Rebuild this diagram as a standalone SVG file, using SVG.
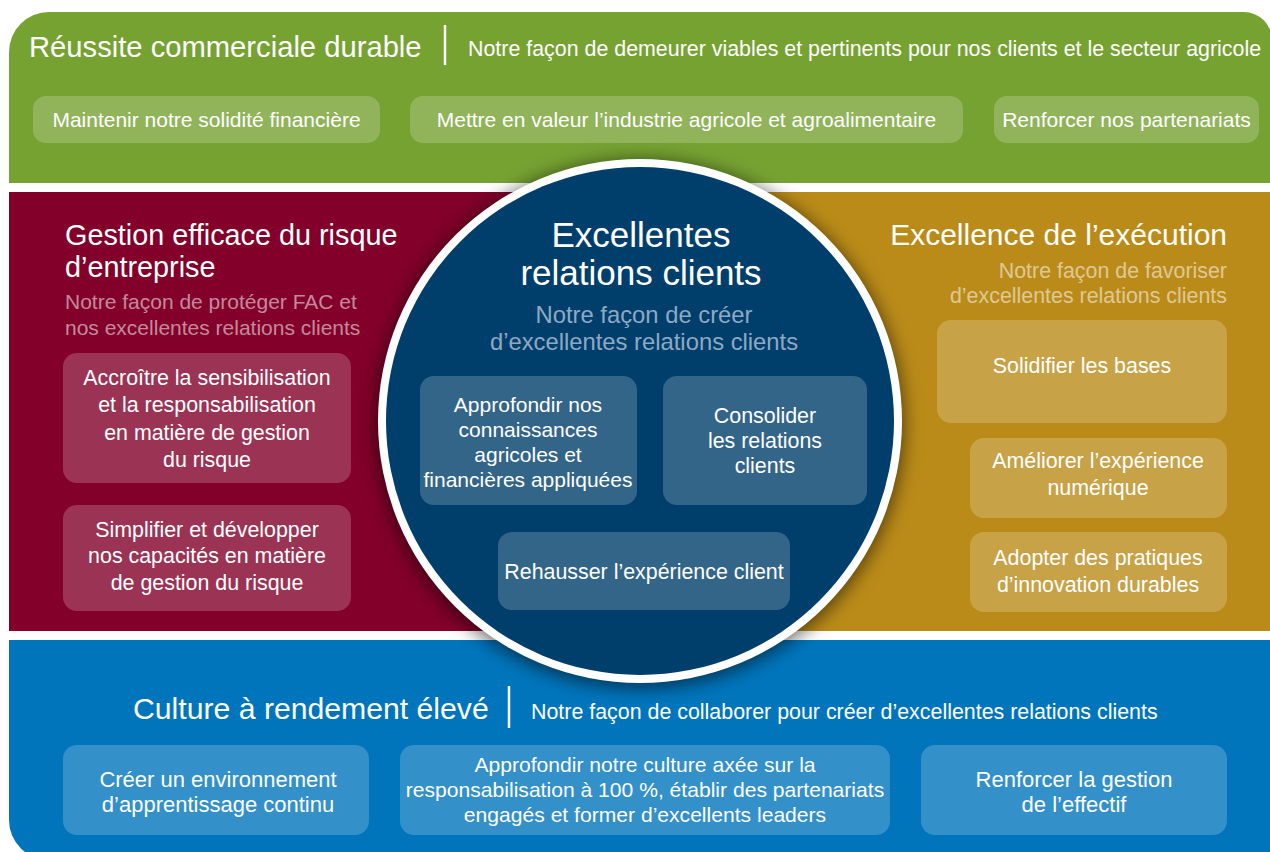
<svg xmlns="http://www.w3.org/2000/svg" width="1270" height="852" viewBox="0 0 1270 852">
<defs>
<style>
text{font-family:"Liberation Sans",Arial,sans-serif;fill:#ffffff}
.t{font-size:29.2px}
.st{font-size:21.4px}
.bx{fill:#ffffff;fill-opacity:0.2}
.b{font-size:21.4px;text-anchor:middle}
.g{font-size:21px}
.sep{stroke:#ffffff;stroke-width:2.5}
.dim{fill-opacity:0.55}
</style>
<filter id="sh" x="-20%" y="-20%" width="140%" height="140%">
<feGaussianBlur stdDeviation="9"/>
</filter>
</defs>
<rect width="1270" height="852" fill="#ffffff"/>

<g id="band-green">
<path d="M9,52 A40,40 0 0 1 49,12 L1244,12 A28,28 0 0 1 1272,40 L1272,183 L9,183 Z" fill="#76a232"/>
<text class="t" x="29" y="57">Réussite commerciale durable</text>
<line class="sep" x1="445" y1="25" x2="445" y2="65"/>
<text class="st" x="468" y="56">Notre façon de demeurer viables et pertinents pour nos clients et le secteur agricole</text>
</g>

<g id="band-maroon">
<rect x="9" y="192" width="631" height="439" fill="#82002a"/>
</g>
<g id="band-gold">
<rect x="640" y="192" width="632" height="439" fill="#ba8b18"/>
</g>
<g id="band-blue">
<path d="M9,640 L1272,640 L1272,860 L49,860 A40,40 0 0 1 9,820 Z" fill="#0075bc"/>
</g>

<g id="shadow">
<circle cx="640" cy="424" r="264" fill="#000000" fill-opacity="0.55" filter="url(#sh)"/>
</g>

<g id="green-boxes">
<g id="g1"><rect class="bx" x="33" y="96" width="347" height="47" rx="13"/><text class="b g" x="206.5" y="127">Maintenir notre solidité financière</text></g>
<g id="g2"><rect class="bx" x="410" y="96" width="553" height="47" rx="13"/><text class="b g" x="686.5" y="127">Mettre en valeur l’industrie agricole et agroalimentaire</text></g>
<g id="g3"><rect class="bx" x="994" y="96" width="265" height="47" rx="13"/><text class="b g" x="1126.5" y="127">Renforcer nos partenariats</text></g>
</g>

<g id="maroon-content">
<text style="font-size:28.8px" x="65" y="245">Gestion efficace du risque</text>
<text style="font-size:28.8px" x="65" y="277">d’entreprise</text>
<text class="dim" style="font-size:21px" x="65" y="309">Notre façon de protéger FAC et</text>
<text class="dim" style="font-size:21px" x="65" y="335">nos excellentes relations clients</text>
<g id="m1"><rect class="bx" x="63" y="353" width="288" height="130" rx="14"/>
<text class="b" x="207" y="385">Accroître la sensibilisation</text>
<text class="b" x="207" y="412">et la responsabilisation</text>
<text class="b" x="207" y="440">en matière de gestion</text>
<text class="b" x="207" y="467">du risque</text></g>
<g id="m2"><rect class="bx" x="63" y="505" width="288" height="106" rx="14"/>
<text class="b" x="207" y="537">Simplifier et développer</text>
<text class="b" x="207" y="563">nos capacités en matière</text>
<text class="b" x="207" y="590">de gestion du risque</text></g>
</g>

<g id="gold-content">
<text style="font-size:30px;text-anchor:end" x="1227" y="245">Excellence de l’exécution</text>
<text class="st dim" style="text-anchor:end" x="1227" y="278">Notre façon de favoriser</text>
<text class="st dim" style="text-anchor:end" x="1227" y="303">d’excellentes relations clients</text>
<g id="o1"><rect class="bx" x="937" y="320" width="290" height="103" rx="14"/>
<text class="b" x="1082" y="373">Solidifier les bases</text></g>
<g id="o2"><rect class="bx" x="970" y="438" width="257" height="80" rx="14"/>
<text class="b" x="1098" y="468">Améliorer l’expérience</text>
<text class="b" x="1098" y="495">numérique</text></g>
<g id="o3"><rect class="bx" x="970" y="532" width="257" height="80" rx="14"/>
<text class="b" x="1098" y="565">Adopter des pratiques</text>
<text class="b" x="1098" y="592">d’innovation durables</text></g>
</g>

<g id="blue-content">
<text style="font-size:30.2px" x="133" y="719">Culture à rendement élevé</text>
<line class="sep" x1="509" y1="686" x2="509" y2="728"/>
<text class="st" x="531" y="719">Notre façon de collaborer pour créer d’excellentes relations clients</text>
<g id="u1"><rect class="bx" x="63" y="745" width="306" height="90" rx="14"/>
<text class="b" style="font-size:22px" x="218" y="787">Créer un environnement</text>
<text class="b" style="font-size:22px" x="218" y="812">d’apprentissage continu</text></g>
<g id="u2"><rect class="bx" x="400" y="745" width="490" height="90" rx="14"/>
<text class="b" style="font-size:21.1px" x="645" y="772">Approfondir notre culture axée sur la</text>
<text class="b" style="font-size:21.1px" x="645" y="797">responsabilisation à 100 %, établir des partenariats</text>
<text class="b" style="font-size:21.1px" x="645" y="822">engagés et former d’excellents leaders</text></g>
<g id="u3"><rect class="bx" x="921" y="745" width="306" height="90" rx="14"/>
<text class="b" style="font-size:22px" x="1074" y="787">Renforcer la gestion</text>
<text class="b" style="font-size:22px" x="1074" y="812">de l’effectif</text></g>
</g>

<g id="circle">
<circle cx="640" cy="421" r="262" fill="#ffffff"/>
<circle cx="640" cy="421" r="254" fill="#003f6c"/>
<text style="font-size:35px;text-anchor:middle" x="641" y="247">Excellentes</text>
<text style="font-size:35px;text-anchor:middle" x="641" y="285">relations clients</text>
<text style="font-size:23.8px;text-anchor:middle;fill:#8ea9c3" x="644" y="323">Notre façon de créer</text>
<text style="font-size:23.8px;text-anchor:middle;fill:#8ea9c3" x="644" y="350">d’excellentes relations clients</text>
<g id="c1"><rect class="bx" x="420" y="376" width="217" height="129" rx="14"/>
<text class="b" style="font-size:21px" x="528" y="412">Approfondir nos</text>
<text class="b" style="font-size:21px" x="528" y="437">connaissances</text>
<text class="b" style="font-size:21px" x="528" y="462">agricoles et</text>
<text class="b" style="font-size:21px" x="528" y="487">financières appliquées</text></g>
<g id="c2"><rect class="bx" x="663" y="376" width="204" height="129" rx="14"/>
<text class="b" x="765" y="423">Consolider</text>
<text class="b" x="765" y="448">les relations</text>
<text class="b" x="765" y="473">clients</text></g>
<g id="c3"><rect class="bx" x="498" y="532" width="292" height="78" rx="14"/>
<text class="b" x="644" y="579">Rehausser l’expérience client</text></g>
</g>
<g id="connectors"/>
</svg>
